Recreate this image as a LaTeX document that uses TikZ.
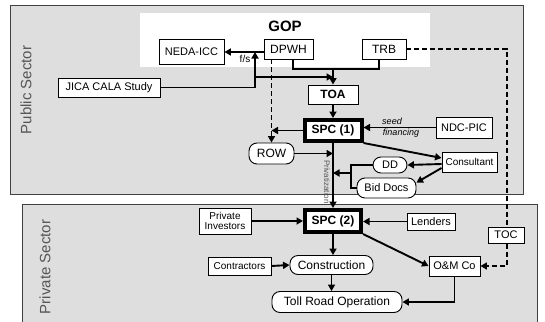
\documentclass[tikz,border=0pt]{standalone}
\usepackage{fontspec}
\setmainfont{Liberation Sans}
\usetikzlibrary{arrows.meta}
\definecolor{panelgray}{HTML}{DEDEDE}
\definecolor{paneledge}{HTML}{404040}
\definecolor{labelgray}{HTML}{555555}
\newcommand{\boxfont}[1]{\fontsize{#1}{#1}\selectfont}
\tikzset{
  flowbox/.style={draw=black, fill=white, line width=0.9pt, inner sep=0pt, align=center},
  roundbox/.style={flowbox, rounded corners=8pt},
  spcbox/.style={flowbox, line width=4pt, font=\boxfont{12}\bfseries},
  link/.style={line width=1.9pt, -{Triangle[length=6.5pt,width=7pt]}},
  plainlink/.style={line width=1.9pt},
  dashlink/.style={line width=1.9pt, dash pattern=on 5pt off 3pt},
  sectorlabel/.style={rotate=90, labelgray, font=\boxfont{15}}
}

\begin{document}
\begin{tikzpicture}[x=1pt, y=-1pt, every node/.style={font=\boxfont{11}}]
\useasboundingbox (0,0) rectangle (545,321);

\draw[paneledge, fill=panelgray, line width=1pt] (10,6) rectangle (523,194);
\draw[paneledge, fill=panelgray, line width=1pt] (22,204) rectangle (537,330);
\fill[white] (140,13) rectangle (430,67);

\node[sectorlabel] (publiclabel) at (26,90) {Public Sector};
\node[sectorlabel] (privatelabel) at (45,267) {Private Sector};

\node[font=\boxfont{15}\bfseries] (gop) at (285,26) {GOP};
\node[flowbox, minimum width=65, minimum height=25] (neda) at (191.5,52) {NEDA-ICC};
\node[flowbox, minimum width=49, minimum height=20, font=\boxfont{12}] (dpwh) at (288.5,49) {DPWH};
\node[flowbox, minimum width=44, minimum height=20, font=\boxfont{12}] (trb) at (384,49) {TRB};
\node[flowbox, minimum width=102, minimum height=19] (jica) at (109,87.5) {JICA CALA Study};
\node[flowbox, minimum width=50, minimum height=19, font=\boxfont{12}\bfseries] (toa) at (333,94.5) {TOA};
\node[spcbox, minimum width=57, minimum height=21] (spc1) at (333,130.5) {SPC (1)};
\node[flowbox, minimum width=56, minimum height=21] (ndc) at (464,127.5) {NDC-PIC};
\node[roundbox, minimum width=45, minimum height=21, font=\boxfont{12}] (row) at (271.5,153.5) {ROW};
\node[flowbox, minimum width=55, minimum height=20, font=\boxfont{10}] (consultant) at (469.5,162) {Consultant};
\node[roundbox, minimum width=34, minimum height=16] (dd) at (390,165) {DD};
\node[roundbox, minimum width=59, minimum height=20] (biddocs) at (386.5,188) {Bid Docs};

\node[spcbox, minimum width=56, minimum height=22] (spc2) at (333,221) {SPC (2)};
\node[flowbox, minimum width=52, minimum height=26, font=\boxfont{10}] (investors) at (225,221) {Private\\Investors};
\node[flowbox, minimum width=48, minimum height=17] (lenders) at (431,221.5) {Lenders};
\node[flowbox, minimum width=63, minimum height=18, font=\boxfont{10}] (contractors) at (239.5,266) {Contractors};
\node[roundbox, minimum width=83, minimum height=19, font=\boxfont{12}] (construction) at (331.5,265) {Construction};
\node[flowbox, minimum width=51, minimum height=20] (omco) at (454.5,266) {O\&M Co};
\node[roundbox, minimum width=130, minimum height=21, font=\boxfont{12}] (tollroad) at (337,302) {Toll Road Operation};

\coordinate (fsjoin) at (255,52);
\coordinate (jicajoin) at (255,77);
\coordinate (govjoin) at (333,69);
\coordinate (docsjoin) at (351,173);
\coordinate (tocbend) at (507,266);

\draw[link] (dpwh.west |- neda.east) -- (neda.east);
\node[font=\boxfont{10}] (fs) at (245,59) {f/s};
\draw[link] (jica.east) -| (fsjoin);
\draw[link] (jicajoin) -- (jicajoin -| toa.north);
\draw[plainlink] ([xshift=4.5pt]dpwh.south) |- (govjoin) -| ([xshift=-5pt]trb.south);
\draw[link] (govjoin) -- (toa.north);
\draw[dashlink, -{Triangle[length=6.5pt,width=7pt]}] (dpwh.south -| row.north) -- (row.north);

\draw[link] (toa.south) -- (spc1.north);
\draw[link] (spc1.west) -- (spc1.west -| row.north);
\draw[link] (ndc.west) -- (ndc.west -| spc1.east);
\node[font=\boxfont{9}\itshape] (seed) at (392,121) {seed};
\node[font=\boxfont{9}\itshape] (financing) at (401,133) {financing};
\draw[link] (spc1.south east) -- ([yshift=4pt]consultant.west);
\draw[link] ([yshift=-2pt]consultant.west) -- (dd.east);
\draw[link] ([yshift=-6pt]consultant.west) -- ([yshift=-5pt]biddocs.north east);
\draw[plainlink] (dd.west) -| (docsjoin) |- (biddocs.west);
\draw[link] (docsjoin) -- (docsjoin -| spc1.south);
\draw[link] (row.east) -- (row.east -| spc1.south);

\node[rotate=-90, labelgray, font=\boxfont{8}] (privatization) at (327,182) {Privatization};
\draw[link] (spc1.south) -- (spc2.north);

\draw[link] (investors.east) -- (spc2.west);
\draw[link] (lenders.west) -- (lenders.west -| spc2.east);
\draw[link] (spc2.south) -- (spc2.south |- construction.north);
\draw[link] (contractors.east) -- (construction.west);
\draw[link] (construction.south) -- (construction.south |- tollroad.north);
\draw[link] (spc2.south east) -- (omco.west);
\draw[link] (omco.south) |- (tollroad.east);

\draw[dashlink, -{Triangle[length=6.5pt,width=7pt]}] (trb.east) -| (tocbend) -- (omco.east);
\node[flowbox, minimum width=36, minimum height=16] (toc) at (506,235) {TOC};

\end{tikzpicture}
\end{document}
